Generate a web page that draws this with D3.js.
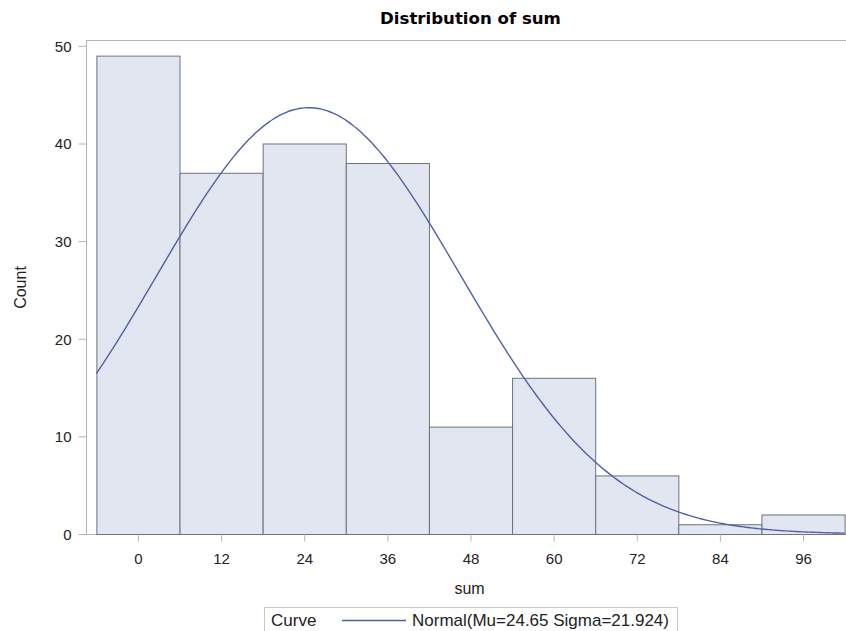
<!DOCTYPE html>
<html>
<head>
<meta charset="utf-8">
<script src="https://cdn.jsdelivr.net/npm/d3@7"></script>
<style>
  body { margin: 0; background: #fff; }
  svg { font-family: "Liberation Sans", Arial, sans-serif; display: block; }
</style>
</head>
<body>
<div id="chart"></div>
<script>
// histogram bins (left edge, width 12) and counts
const binStarts = [-6, 6, 18, 30, 42, 54, 66, 78, 90];
const binWidth = 12;
const counts = [49, 37, 40, 38, 11, 16, 6, 1, 2];
const xTicks = [0, 12, 24, 36, 48, 60, 72, 84, 96];
const yTicks = [0, 10, 20, 30, 40, 50];
// fitted normal from the legend
const mu = 24.65;
const sigma = 21.924;

const w = 846, h = 631;
const padLeft = 86, padTop = 40, plotBottom = 534, plotRight = 855;

const total = d3.sum(counts);

const xScale = d3.scaleLinear().domain([-7.5, 103.5]).range([padLeft, plotRight]);
const yScale = d3.scaleLinear().domain([0, 50.6]).range([plotBottom, padTop]);

const svg = d3.select('#chart').append('svg').attr('width', w).attr('height', h);

// plot frame
svg.append('rect')
  .attr('x', padLeft + 0.5).attr('y', padTop + 0.5)
  .attr('width', plotRight - padLeft).attr('height', plotBottom - padTop)
  .attr('fill', 'none').attr('stroke', '#b4b4b4');

const bins = binStarts.map((s, i) => ({x0: s, x1: s + binWidth, n: counts[i]}));
svg.selectAll('rect.bar').data(bins).enter().append('rect')
  .attr('class', 'bar')
  .attr('x', d => xScale(d.x0) + 0.5)
  .attr('y', d => yScale(d.n) + 0.5)
  .attr('width', d => xScale(d.x1) - xScale(d.x0))
  .attr('height', d => yScale(0) - yScale(d.n))
  .attr('fill', '#e2e6f0').attr('stroke', '#6f7278').attr('stroke-width', 1);

// normal curve scaled to counts
const pdf = x => Math.exp(-0.5 * Math.pow((x - mu) / sigma, 2)) / (sigma * Math.sqrt(2 * Math.PI));
const curvePts = d3.range(-6, 102.01, 0.5).map(x => [x, total * binWidth * pdf(x)]);
svg.append('path').datum(curvePts)
  .attr('d', d3.line().x(d => xScale(d[0])).y(d => yScale(d[1])).curve(d3.curveBasis))
  .attr('fill', 'none').attr('stroke', '#5060a8').attr('stroke-width', 1.4);

// axes
const xAxis = d3.axisBottom(xScale).tickValues(xTicks).tickSize(7).tickSizeOuter(0);
const gx = svg.append('g').attr('transform', 'translate(0,' + (plotBottom + 0.5) + ')').call(xAxis);
gx.select('.domain').remove();
gx.selectAll('line').attr('stroke', '#b4b4b4');
gx.selectAll('text').attr('fill', '#222').attr('font-size', 15).attr('y', 29).attr('dy', 0);

const yAxis = d3.axisLeft(yScale).tickValues(yTicks).tickSize(8).tickSizeOuter(0);
const gy = svg.append('g').attr('transform', 'translate(' + (padLeft + 0.5) + ',0)').call(yAxis);
gy.select('.domain').remove();
gy.selectAll('line').attr('stroke', '#b4b4b4');
gy.selectAll('text').attr('fill', '#222').attr('font-size', 15).attr('x', -15).attr('dy', '0.36em');

// titles
svg.append('text').attr('x', 470.5).attr('y', 24).attr('text-anchor', 'middle')
  .attr('font-family', '"DejaVu Sans", sans-serif')
  .attr('font-weight', 'bold').attr('font-size', 16.6).attr('fill', '#000').text('Distribution of sum');
svg.append('text').attr('x', 469.5).attr('y', 594).attr('text-anchor', 'middle')
  .attr('font-size', 16).attr('fill', '#222').text('sum');
svg.append('text').attr('transform', 'translate(26,287.5) rotate(-90)').attr('text-anchor', 'middle')
  .attr('font-size', 16).attr('fill', '#222').text('Count');

// legend
const lg = svg.append('g');
lg.append('rect').attr('x', 264.5).attr('y', 607.5).attr('width', 413).attr('height', 30)
  .attr('fill', '#fff').attr('stroke', '#c8c8c8');
lg.append('text').attr('x', 271).attr('y', 626).attr('font-size', 17).attr('fill', '#222').text('Curve');
lg.append('line').attr('x1', 342).attr('x2', 406).attr('y1', 620.5).attr('y2', 620.5)
  .attr('stroke', '#5060a8').attr('stroke-width', 1.4);
lg.append('text').attr('x', 412).attr('y', 626).attr('font-size', 17).attr('fill', '#222')
  .attr('textLength', 257).text('Normal(Mu=' + mu + ' Sigma=' + sigma + ')');
</script>
</body>
</html>
